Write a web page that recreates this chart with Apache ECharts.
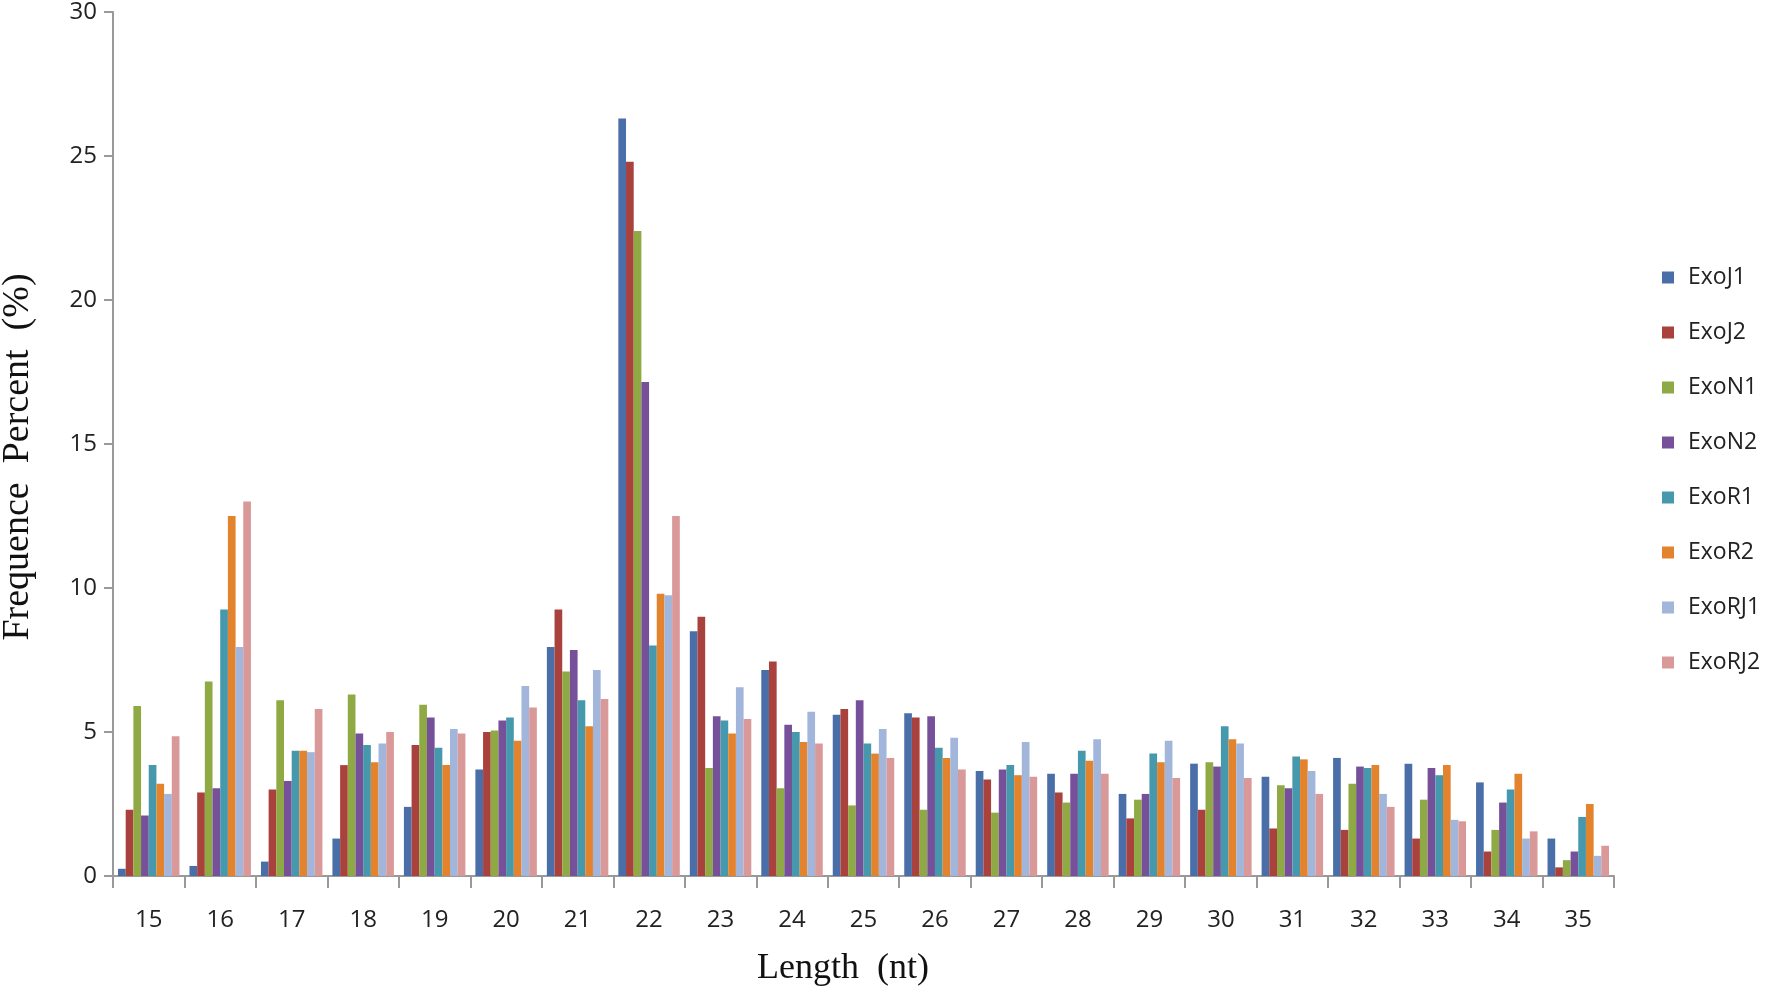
<!DOCTYPE html>
<html>
<head>
<meta charset="utf-8">
<script src="https://cdn.jsdelivr.net/npm/echarts@6/dist/echarts.min.js"></script>
<style>html,body{margin:0;padding:0;background:#fff}#c{width:1772px;height:992px}</style>
</head>
<body>
<div id="c"></div>
<script>
const categories = ['15','16','17','18','19','20','21','22','23','24','25','26','27','28','29','30','31','32','33','34','35'];
const seriesNames = ['ExoJ1','ExoJ2','ExoN1','ExoN2','ExoR1','ExoR2','ExoRJ1','ExoRJ2'];
const ExoJ1  = [0.25,0.35,0.5,1.3,2.4,3.7,7.95,26.3,8.5,7.15,5.6,5.65,3.65,3.55,2.85,3.9,3.45,4.1,3.9,3.25,1.3];
const ExoJ2  = [2.3,2.9,3.0,3.85,4.55,5.0,9.25,24.8,9.0,7.45,5.8,5.5,3.35,2.9,2.0,2.3,1.65,1.6,1.3,0.85,0.3];
const ExoN1  = [5.9,6.75,6.1,6.3,5.95,5.05,7.1,22.4,3.75,3.05,2.45,2.3,2.2,2.55,2.65,3.95,3.15,3.2,2.65,1.6,0.55];
const ExoN2  = [2.1,3.05,3.3,4.95,5.5,5.4,7.85,17.15,5.55,5.25,6.1,5.55,3.7,3.55,2.85,3.8,3.05,3.8,3.75,2.55,0.85];
const ExoR1  = [3.85,9.25,4.35,4.55,4.45,5.5,6.1,8.0,5.4,5.0,4.6,4.45,3.85,4.35,4.25,5.2,4.15,3.75,3.5,3.0,2.05];
const ExoR2  = [3.2,12.5,4.35,3.95,3.85,4.7,5.2,9.8,4.95,4.65,4.25,4.1,3.5,4.0,3.95,4.75,4.05,3.85,3.85,3.55,2.5];
const ExoRJ1 = [2.85,7.95,4.3,4.6,5.1,6.6,7.15,9.75,6.55,5.7,5.1,4.8,4.65,4.75,4.7,4.6,3.65,2.85,1.95,1.3,0.7];
const ExoRJ2 = [4.85,13.0,5.8,5.0,4.95,5.85,6.15,12.5,5.45,4.6,4.1,3.7,3.45,3.55,3.4,3.4,2.85,2.4,1.9,1.55,1.05];
const yTicks = [0,5,10,15,20,25,30];
const xTitle = 'Length  (nt)';
const yTitle = 'Frequence  Percent  (%)';

const dataSets = [ExoJ1,ExoJ2,ExoN1,ExoN2,ExoR1,ExoR2,ExoRJ1,ExoRJ2];
const colors = ['#4A6FA8','#A9413D','#8FAA44','#76519A','#4698AD','#E3832E','#A2B5DB','#D99999'];

const chart = echarts.init(document.getElementById('c'));
chart.setOption({
  animation: false,
  backgroundColor: '#fff',
  color: colors,
  grid: {left: 113, right: 158, top: 11, bottom: 116, containLabel: false},
  graphic: [
    {type: 'text', x: 843, y: 969, style: {text: xTitle, font: '36px "Liberation Serif"', fill: '#111', align: 'center', verticalAlign: 'middle'}},
    {type: 'text', x: 18, y: 457, rotation: Math.PI / 2, style: {text: yTitle, font: '38px "Liberation Serif"', fill: '#111', align: 'center', verticalAlign: 'middle'}}
  ],
  legend: {
    orient: 'vertical',
    left: 1657,
    top: 261,
    itemWidth: 12,
    itemHeight: 12,
    itemGap: 32,
    icon: 'rect',
    textStyle: {fontFamily: 'Open Sans', fontSize: 23, color: '#222', padding: [0, 0, 0, 9]},
    data: seriesNames
  },
  xAxis: {
    type: 'category',
    data: categories,
    axisLine: {lineStyle: {color: '#999', width: 2}},
    axisTick: {show: true, alignWithLabel: false, length: 12, lineStyle: {color: '#999', width: 2}},
    axisLabel: {fontFamily: 'Open Sans', fontSize: 24, color: '#222', margin: 32}
  },
  yAxis: {
    type: 'value',
    min: 0, max: 30, interval: 5,
    axisLine: {show: true, lineStyle: {color: '#999', width: 2}},
    axisTick: {show: true, length: 9, lineStyle: {color: '#999', width: 2}},
    splitLine: {show: false},
    axisLabel: {fontFamily: 'Open Sans', fontSize: 24, color: '#222', margin: 16,
      formatter: v => yTicks.includes(v) ? String(v) : ''}
  },
  series: seriesNames.map((n, i) => ({
    name: n,
    type: 'bar',
    data: dataSets[i],
    barGap: '0%',
    barCategoryGap: '14%',
    itemStyle: {color: colors[i]}
  }))
});
</script>
</body>
</html>
